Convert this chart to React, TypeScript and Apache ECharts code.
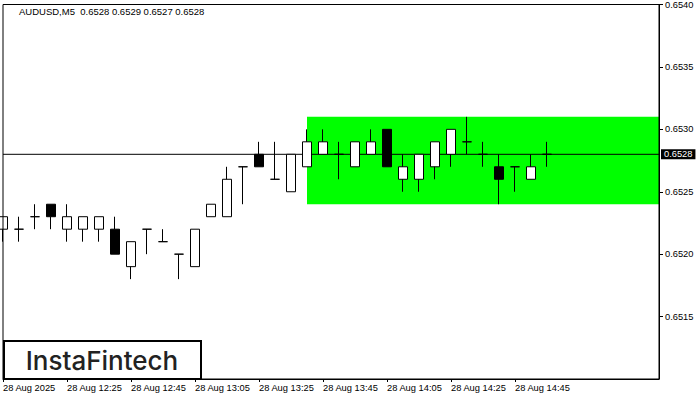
import React, { useEffect, useRef } from "react";
import * as echarts from "echarts";

const symbol = "AUDUSD,M5";
const categories = [
  "12:05", "12:10", "12:15", "12:20", "12:25", "12:30", "12:35", "12:40", "12:45", "12:50", "12:55",
  "13:00", "13:05", "13:10", "13:15", "13:20", "13:25", "13:30", "13:35", "13:40", "13:45", "13:50", "13:55",
  "14:00", "14:05", "14:10", "14:15", "14:20", "14:25", "14:30", "14:35", "14:40", "14:45", "14:50", "14:55",
  "15:00", "15:05", "15:10", "15:15", "15:20", "15:25", "15:30",
];
const tickLabels = [
  "28 Aug 2025", "28 Aug 12:25", "28 Aug 12:45", "28 Aug 13:05", "28 Aug 13:25",
  "28 Aug 13:45", "28 Aug 14:05", "28 Aug 14:25", "28 Aug 14:45",
];
const tickStep = 4;

const opens = [
  0.6522, 0.6522, 0.6523, 0.6524, 0.6522, 0.6522, 0.6522, 0.6522, 0.6519, 0.6522,
  0.6521, 0.6520, 0.6519, 0.6523, 0.6523, 0.6527, 0.6528, 0.6526, 0.6525, 0.6527,
  0.6528, 0.6528, 0.6527, 0.6528, 0.6530, 0.6526, 0.6526, 0.6527, 0.6528, 0.6529,
  0.6528, 0.6527, 0.6527, 0.6526, 0.6528,
];
const closes = [
  0.6523, 0.6522, 0.6523, 0.6523, 0.6523, 0.6523, 0.6523, 0.6520, 0.6521, 0.6522,
  0.6521, 0.6520, 0.6522, 0.6524, 0.6526, 0.6527, 0.6527, 0.6526, 0.6528, 0.6529,
  0.6529, 0.6528, 0.6529, 0.6529, 0.6527, 0.6527, 0.6528, 0.6529, 0.6530, 0.6529,
  0.6528, 0.6526, 0.6527, 0.6527, 0.6528,
];
const lows = [
  0.6521, 0.6521, 0.6522, 0.6522, 0.6521, 0.6521, 0.6521, 0.6520, 0.6518, 0.6520,
  0.6521, 0.6518, 0.6519, 0.6523, 0.6523, 0.6524, 0.6527, 0.6526, 0.6525, 0.6527,
  0.6528, 0.6526, 0.6527, 0.6528, 0.6527, 0.6525, 0.6525, 0.6526, 0.6527, 0.6528,
  0.6527, 0.6524, 0.6525, 0.6526, 0.6527,
];
const highs = [
  0.6523, 0.6523, 0.6524, 0.6524, 0.6524, 0.6523, 0.6523, 0.6523, 0.6521, 0.6522,
  0.6522, 0.6520, 0.6522, 0.6524, 0.6527, 0.6527, 0.6529, 0.6529, 0.6528, 0.6530,
  0.6530, 0.6529, 0.6529, 0.6530, 0.6530, 0.6528, 0.6528, 0.6529, 0.6530, 0.6531,
  0.6529, 0.6528, 0.6527, 0.6528, 0.6529,
];

const zoneTop = 0.6531;
const zoneBottom = 0.6524;
const zoneStartIndex = 19;
const zoneEndIndex = 41;

const yMin = 0.651;
const yMax = 0.654;
const yInterval = 0.0005;

const FONT = "Liberation Sans";

export default function App() {
  const ref = useRef<HTMLDivElement>(null);
  useEffect(() => {
    if (!ref.current) return;
    const chart = echarts.init(ref.current, undefined, { renderer: "svg" });
    const n = opens.length;
    const lastO = opens[n - 1];
    const lastH = highs[n - 1];
    const lastL = lows[n - 1];
    const lastC = closes[n - 1];
    const candleData = opens.map((o, i) => [o, closes[i], lows[i], highs[i]]);
    const priceLine = categories.map(() => lastC);
    const showTick = (idx: number) =>
      idx % tickStep === 0 && idx / tickStep < tickLabels.length;

    chart.setOption({
      animation: false,
      grid: {
        left: 3,
        top: 4,
        width: 656,
        height: 375,
        show: true,
        borderColor: "#000",
        borderWidth: 1,
        backgroundColor: "transparent",
        z: 10,
      },
      xAxis: {
        type: "category",
        data: categories,
        boundaryGap: false,
        axisLine: { show: true, lineStyle: { color: "#000", width: 1 } },
        axisTick: {
          show: true,
          interval: (idx: number) => showTick(idx),
          length: 3,
          lineStyle: { color: "#000" },
        },
        axisLabel: {
          interval: (idx: number) => showTick(idx),
          formatter: (_v: string, idx: number) =>
            showTick(idx) ? tickLabels[idx / tickStep] : "",
          align: "left",
          margin: 4,
          fontSize: 9.3,
          fontFamily: FONT,
          color: "#000",
        },
        splitLine: { show: false },
      },
      yAxis: {
        type: "value",
        position: "right",
        min: yMin,
        max: yMax,
        interval: yInterval,
        scale: true,
        axisLine: { show: true, lineStyle: { color: "#000" } },
        axisTick: { show: true, length: 4, lineStyle: { color: "#000" } },
        axisLabel: {
          showMinLabel: false,
          formatter: (v: number) => v.toFixed(4),
          margin: 6,
          fontSize: 9.3,
          fontFamily: FONT,
          color: "#000",
        },
        splitLine: { show: false },
      },
      series: [
        {
          type: "line",
          data: [],
          z: 1,
          silent: true,
          markArea: {
            silent: true,
            itemStyle: { color: "#00ff00" },
            data: [
              [
                { xAxis: categories[zoneStartIndex], yAxis: zoneTop },
                { xAxis: categories[zoneEndIndex], yAxis: zoneBottom },
              ],
            ],
          },
        },
        {
          type: "line",
          data: priceLine,
          z: 2,
          silent: true,
          symbol: "none",
          showSymbol: false,
          lineStyle: { color: "#000", width: 1, type: "solid" },
          emphasis: { disabled: true },
          endLabel: {
            show: true,
            formatter: () => lastC.toFixed(4),
            color: "#fff",
            backgroundColor: "#000",
            padding: [1, 3, 0, 3],
            fontSize: 9.3,
            fontFamily: FONT,
            distance: 2,
          },
        },
        {
          type: "candlestick",
          z: 3,
          data: candleData,
          barWidth: 10,
          clip: true,
          itemStyle: {
            color: "#fff",
            color0: "#000",
            borderColor: "#000",
            borderColor0: "#000",
            borderColorDoji: "#000",
            borderWidth: 1,
          },
          emphasis: { disabled: true },
        },
      ],
      graphic: [
        {
          type: "text",
          x: 19,
          y: 11,
          z: 100,
          style: {
            text: `${symbol}  ${lastO.toFixed(4)} ${lastH.toFixed(4)} ${lastL.toFixed(4)} ${lastC.toFixed(4)}`,
            fontSize: 9.5,
            fontFamily: FONT,
            fill: "#000",
            verticalAlign: "middle",
          },
        },
        {
          type: "rect",
          z: 100,
          shape: { x: 4, y: 341, width: 197, height: 38 },
          style: { fill: "#fff", stroke: "#000", lineWidth: 2 },
        },
        {
          type: "text",
          z: 101,
          x: 102,
          y: 360,
          style: {
            text: "InstaFintech",
            fontSize: 26,
            fontFamily: "Inter",
            fontWeight: 500,
            fill: "#222",
            align: "center",
            verticalAlign: "middle",
          },
        },
      ],
    });
    return () => chart.dispose();
  }, []);
  return (
    <div
      ref={ref}
      style={{ position: "absolute", left: 0, top: 0, width: 700, height: 400, background: "#fff" }}
    />
  );
}
